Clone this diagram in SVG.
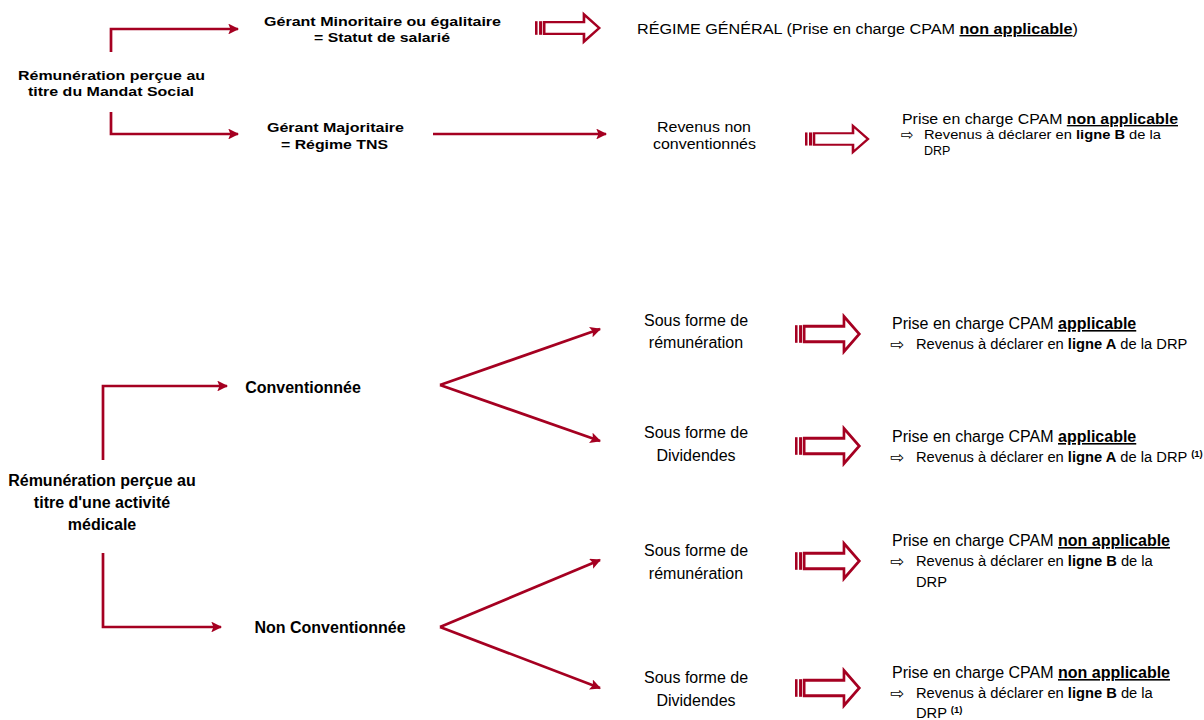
<svg xmlns="http://www.w3.org/2000/svg" width="1204" height="720" viewBox="0 0 1204 720">
  <defs>
    <style>
      .ln { fill: none; stroke: #a50021; stroke-width: 2.7; }
      .blk { fill: #ffffff; stroke: #a50021; stroke-width: 2.6; stroke-linejoin: miter; }
      .bar { fill: #a50021; }
      .t { font-family: "Liberation Sans", Arial, sans-serif; fill: #000; }
      .n { font-family: "Liberation Sans Narrow", "Arial Narrow", "Liberation Sans", sans-serif; fill: #000; }
      .b { font-weight: bold; }
      .u { font-weight: bold; text-decoration: underline; }
      .sym { font-family: "DejaVu Sans", sans-serif; fill: #000; }
      .sup { font-size: 9.5px; font-weight: bold; }
    </style>
    <marker id="ah" viewBox="0 0 10 10" refX="9" refY="5" markerWidth="4" markerHeight="4" orient="auto" markerUnits="strokeWidth">
      <path d="M0,0 L10,5 L0,10 L2,5 Z" fill="#a50021"/>
    </marker>
    <!-- outlined block arrow with two bars at its tail; origin = tail, centre line -->
    <g id="blockArrow">
      <rect class="bar" x="0" y="-8" width="2.5" height="16"/>
      <rect class="bar" x="4" y="-8" width="3" height="16"/>
      <path class="blk" d="M9,-7 H48 V-16 L63,0 L48,16 V7 H9 Z"/>
    </g>
  </defs>

  <!-- connectors -->
  <g id="connectors">
    <!-- mandat social -->
    <path class="ln" d="M111,52 V29 H238" marker-end="url(#ah)"/>
    <path class="ln" d="M111,112 V134 H238" marker-end="url(#ah)"/>
    <path class="ln" d="M433,134 H606" marker-end="url(#ah)"/>
    <!-- activité médicale -->
    <path class="ln" d="M103,460 V386 H227" marker-end="url(#ah)"/>
    <path class="ln" d="M103,553 V627 H221" marker-end="url(#ah)"/>
    <path class="ln" d="M440,385 L600,329" marker-end="url(#ah)"/>
    <path class="ln" d="M440,385 L600,441" marker-end="url(#ah)"/>
    <path class="ln" d="M440,627 L600,560" marker-end="url(#ah)"/>
    <path class="ln" d="M440,627 L600,688" marker-end="url(#ah)"/>
    <!-- block arrows -->
    <use href="#blockArrow" transform="translate(535,28) scale(1.02,0.85)"/>
    <use href="#blockArrow" transform="translate(805,139) scale(1.0,0.82)"/>
    <use href="#blockArrow" transform="translate(795,334) scale(1.02,1.1)"/>
    <use href="#blockArrow" transform="translate(795,446) scale(1.02,1.1)"/>
    <use href="#blockArrow" transform="translate(795,561) scale(1.02,1.1)"/>
    <use href="#blockArrow" transform="translate(795,688) scale(1.02,1.1)"/>
  </g>

  <!-- mandat social -->
  <g id="node-mandat">
    <text class="t b" font-size="13.5" x="18" y="80" textLength="187" lengthAdjust="spacingAndGlyphs">Rémunération perçue au</text>
    <text class="t b" font-size="13.5" x="28" y="96" textLength="166" lengthAdjust="spacingAndGlyphs">titre du Mandat Social</text>
  </g>
  <g id="node-minoritaire">
    <text class="t b" font-size="13.5" x="264" y="26" textLength="237" lengthAdjust="spacingAndGlyphs">Gérant Minoritaire ou égalitaire</text>
    <text class="t b" font-size="13.5" x="314" y="42" textLength="136" lengthAdjust="spacingAndGlyphs">= Statut de salarié</text>
  </g>
  <g id="node-regime-general">
    <text class="t" font-size="14" x="637" y="34" textLength="441" lengthAdjust="spacingAndGlyphs">RÉGIME GÉNÉRAL (Prise en charge CPAM <tspan class="u">non applicable</tspan>)</text>
  </g>
  <g id="node-majoritaire">
    <text class="t b" font-size="13.5" x="267" y="132" textLength="137" lengthAdjust="spacingAndGlyphs">Gérant Majoritaire</text>
    <text class="t b" font-size="13.5" x="281" y="149" textLength="107" lengthAdjust="spacingAndGlyphs">= Régime TNS</text>
  </g>
  <g id="node-revenus-nc">
    <text class="t" font-size="14" x="657" y="132" textLength="94" lengthAdjust="spacingAndGlyphs">Revenus non</text>
    <text class="t" font-size="14" x="653" y="149" textLength="103" lengthAdjust="spacingAndGlyphs">conventionnés</text>
  </g>
  <g id="node-tns-result">
    <text class="t" font-size="14" x="902" y="124" textLength="276" lengthAdjust="spacingAndGlyphs">Prise en charge CPAM <tspan class="u">non applicable</tspan></text>
    <text class="sym" font-size="15" x="901" y="140">⇨</text>
    <text class="t" font-size="12.5" x="924" y="139" textLength="237" lengthAdjust="spacingAndGlyphs">Revenus à déclarer en <tspan class="b">ligne B</tspan> de la</text>
    <text class="t" font-size="12.5" x="924" y="155">DRP</text>
  </g>

  <!-- activité médicale -->
  <g id="node-medicale">
    <text class="n b" font-size="16" text-anchor="middle"><tspan x="102" y="486">Rémunération perçue au</tspan><tspan x="102" y="508">titre d'une activité</tspan><tspan x="102" y="530">médicale</tspan></text>
  </g>
  <g id="node-conventionnee">
    <text class="n b" font-size="16" text-anchor="middle" x="303" y="393">Conventionnée</text>
  </g>
  <g id="node-non-conventionnee">
    <text class="n b" font-size="16" text-anchor="middle" x="330" y="633">Non Conventionnée</text>
  </g>

  <g id="node-c-remuneration">
    <text class="n" font-size="16" text-anchor="middle"><tspan x="696" y="326">Sous forme de</tspan><tspan x="696" y="348">rémunération</tspan></text>
  </g>
  <g id="node-c-dividendes">
    <text class="n" font-size="16" text-anchor="middle"><tspan x="696" y="438">Sous forme de</tspan><tspan x="696" y="461">Dividendes</tspan></text>
  </g>
  <g id="node-nc-remuneration">
    <text class="n" font-size="16" text-anchor="middle"><tspan x="696" y="556">Sous forme de</tspan><tspan x="696" y="579">rémunération</tspan></text>
  </g>
  <g id="node-nc-dividendes">
    <text class="n" font-size="16" text-anchor="middle"><tspan x="696" y="683">Sous forme de</tspan><tspan x="696" y="706">Dividendes</tspan></text>
  </g>

  <g id="node-c-remuneration-result">
    <text class="n" font-size="16" x="892" y="329">Prise en charge CPAM <tspan class="u">applicable</tspan></text>
    <text class="sym" font-size="17" x="890" y="350">⇨</text>
    <text class="n" font-size="14.7" x="916" y="349">Revenus à déclarer en <tspan class="b">ligne A</tspan> de la DRP</text>
  </g>
  <g id="node-c-dividendes-result">
    <text class="n" font-size="16" x="892" y="442">Prise en charge CPAM <tspan class="u">applicable</tspan></text>
    <text class="sym" font-size="17" x="890" y="463">⇨</text>
    <text class="n" font-size="14.7" x="916" y="462">Revenus à déclarer en <tspan class="b">ligne A</tspan> de la DRP <tspan class="sup" dy="-5">(1)</tspan></text>
  </g>
  <g id="node-nc-remuneration-result">
    <text class="n" font-size="16" x="892" y="546">Prise en charge CPAM <tspan class="u">non applicable</tspan></text>
    <text class="sym" font-size="17" x="890" y="567">⇨</text>
    <text class="n" font-size="14.7" x="916" y="566">Revenus à déclarer en <tspan class="b">ligne B</tspan> de la</text>
    <text class="n" font-size="14.7" x="916" y="587">DRP</text>
  </g>
  <g id="node-nc-dividendes-result">
    <text class="n" font-size="16" x="892" y="678">Prise en charge CPAM <tspan class="u">non applicable</tspan></text>
    <text class="sym" font-size="17" x="890" y="699">⇨</text>
    <text class="n" font-size="14.7" x="916" y="698">Revenus à déclarer en <tspan class="b">ligne B</tspan> de la</text>
    <text class="n" font-size="14.7" x="916" y="718">DRP <tspan class="sup" dy="-5">(1)</tspan></text>
  </g>
</svg>
